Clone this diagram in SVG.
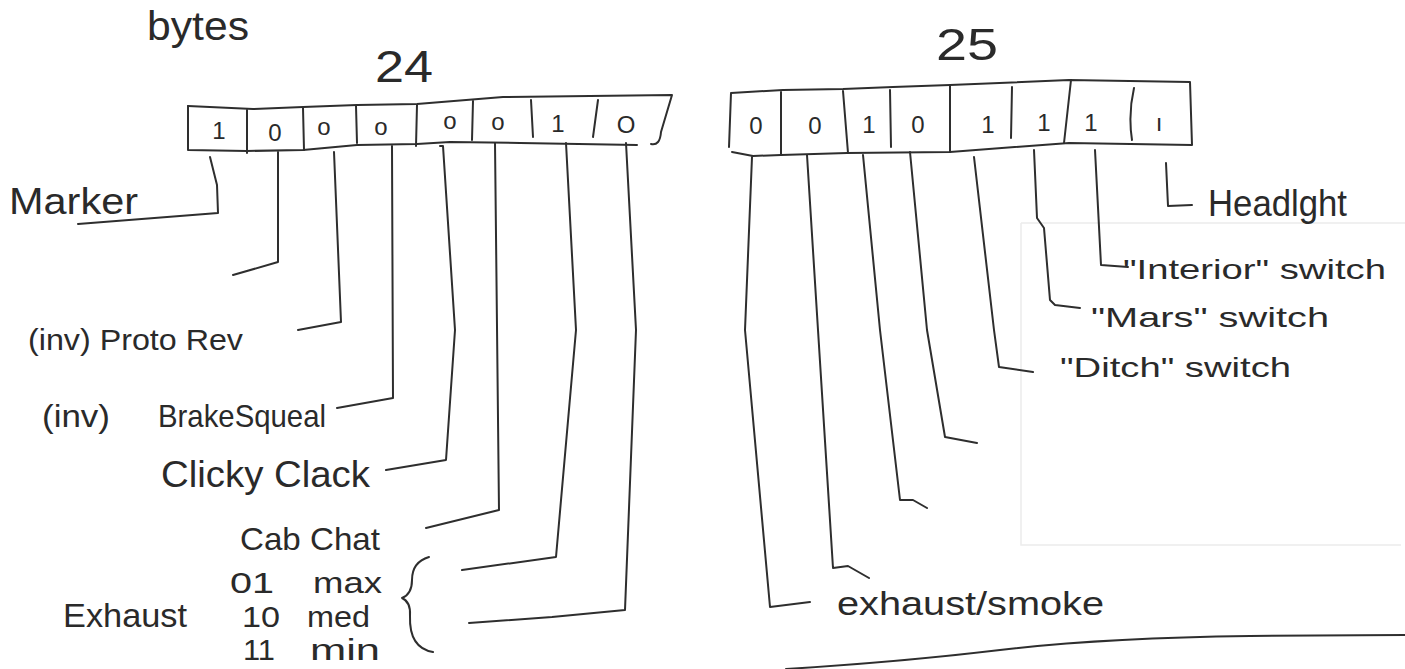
<svg xmlns="http://www.w3.org/2000/svg" width="1405" height="669" viewBox="0 0 1405 669">
<style>
.ln{fill:none;stroke:#2e2e2e;stroke-width:2;stroke-linecap:round;stroke-linejoin:round}
.faint{fill:none;stroke:#ececec;stroke-width:1.5}
.t{font-family:"Liberation Sans","DejaVu Sans",sans-serif;fill:#2a2a2a}
.d{font-family:"Liberation Sans","DejaVu Sans",sans-serif;fill:#2a2a2a;font-size:24px;text-anchor:middle}
</style>
<rect width="1405" height="669" fill="#ffffff"/>
<g id="paper-edge">
<path class="faint" d="M1021,223 L1405,223 M1021,223 L1021,545 L1401,545"/>
</g>
<g id="title-bytes"><text class="t" x="147" y="40" font-size="40" textLength="102" lengthAdjust="spacingAndGlyphs">bytes</text></g>
<g id="label-24"><text class="t" x="375" y="82" font-size="44" textLength="58" lengthAdjust="spacingAndGlyphs">24</text></g>
<g id="label-25"><text class="t" x="936" y="60" font-size="44" textLength="62" lengthAdjust="spacingAndGlyphs">25</text></g>

<g id="byte-24">
<path class="ln" d="M188,106 L253,109 L303,107 L357,105 L417,104 L503,97 L672,95 L661,132 Q660,146 651,144"/>
<path class="ln" d="M637,145 L520,143 L450,142 L417,144 L357,145 L303,150 L247,151 L188,150 L188,106"/>
<path class="ln" d="M247,110 L247,153 M303,108 L304,150 M356,106 L357,143 M417,105 L416,146 M473,101 L472,140 M531,100 L533,137 M598,100 L593,137"/>
<text class="d" x="219" y="139">1</text>
<text class="d" x="275" y="141">0</text>
<text class="d" x="324" y="135">o</text>
<text class="d" x="381" y="135">o</text>
<text class="d" x="450" y="129">o</text>
<text class="d" x="498" y="130">o</text>
<text class="d" x="558" y="132">1</text>
<text class="d" x="626" y="133" font-size="26">O</text>
</g>

<g id="byte-25">
<path class="ln" d="M731,93 L783,90 L843,89 L893,87 L950,85 L1069,80 L1190,82 L1192,145 L1069,143 L950,152 L847,153 L781,155 L753,156 L732,152 M731,93 L729,147"/>
<path class="ln" d="M781,92 L781,155 M843,91 L848,153 M890,90 L891,147 M950,85 L950,152 M1012,87 L1011,138 M1071,80 L1064,143 M1134,88 Q1128,114 1132,140"/>
<text class="d" x="756" y="134">0</text>
<text class="d" x="815" y="134">0</text>
<text class="d" x="869" y="133">1</text>
<text class="d" x="918" y="133">0</text>
<text class="d" x="988" y="133">1</text>
<text class="d" x="1044" y="131">1</text>
<text class="d" x="1091" y="131">1</text>
<text class="d" x="1159" y="131">ı</text>
</g>

<g id="connectors">
<polyline class="ln" points="210,157 217,185 218,213 78,224"/>
<polyline class="ln" points="278,152 278,262 233,275"/>
<polyline class="ln" points="334,152 341,322 298,330"/>
<polyline class="ln" points="392,146 393,398 337,408"/>
<polyline class="ln" points="440,146 443,146 455,330 446,460 386,470"/>
<polyline class="ln" points="495,143 499,510 426,528"/>
<polyline class="ln" points="566,143 576,330 556,557 462,570"/>
<polyline class="ln" points="626,143 636,330 625,610 552,617 469,623"/>
<polyline class="ln" points="752,157 745,330 770,607 810,602"/>
<polyline class="ln" points="807,155 818,330 833,568 848,566 869,578"/>
<polyline class="ln" points="863,155 880,330 900,500 913,500 927,508"/>
<polyline class="ln" points="910,152 927,330 945,437 977,443"/>
<polyline class="ln" points="974,157 994,330 999,367 1033,372"/>
<polyline class="ln" points="1034,150 1037,218 1044,228 1050,300 1055,305 1080,308"/>
<polyline class="ln" points="1095,150 1101,265 1128,267"/>
<polyline class="ln" points="1166,163 1168,206 1192,205"/>
<path class="ln" d="M429,557 Q412,562 412,580 Q412,594 402,598 Q411,602 410,616 Q409,648 433,652"/>
<path class="ln" d="M786,669 Q900,662 1000,650 Q1100,638 1250,636 L1405,635"/>
</g>

<g id="label-marker"><text class="t" x="9" y="214" font-size="36" textLength="129" lengthAdjust="spacingAndGlyphs">Marker</text></g>
<g id="label-protorev"><text class="t" x="28" y="350" font-size="30" textLength="215" lengthAdjust="spacingAndGlyphs">(inv) Proto Rev</text></g>
<g id="label-brakesqueal">
<text class="t" x="42" y="427" font-size="32" textLength="68" lengthAdjust="spacingAndGlyphs">(inv)</text>
<text class="t" x="158" y="427" font-size="32" textLength="168" lengthAdjust="spacingAndGlyphs">BrakeSqueal</text>
</g>
<g id="label-clickyclack"><text class="t" x="161" y="487" font-size="36" textLength="209" lengthAdjust="spacingAndGlyphs">Clicky Clack</text></g>
<g id="label-cabchat"><text class="t" x="240" y="550" font-size="32" textLength="140" lengthAdjust="spacingAndGlyphs">Cab Chat</text></g>
<g id="label-exhaust">
<text class="t" x="63" y="627" font-size="34" textLength="124" lengthAdjust="spacingAndGlyphs">Exhaust</text>
<text class="t" x="230" y="593" font-size="30" textLength="44" lengthAdjust="spacingAndGlyphs">01</text>
<text class="t" x="313" y="593" font-size="30" textLength="69" lengthAdjust="spacingAndGlyphs">max</text>
<text class="t" x="242" y="627" font-size="30" textLength="38" lengthAdjust="spacingAndGlyphs">10</text>
<text class="t" x="307" y="627" font-size="30" textLength="63" lengthAdjust="spacingAndGlyphs">med</text>
<text class="t" x="243" y="660" font-size="30" textLength="32" lengthAdjust="spacingAndGlyphs">11</text>
<text class="t" x="310" y="660" font-size="30" textLength="70" lengthAdjust="spacingAndGlyphs">min</text>
</g>
<g id="label-headlight"><text class="t" x="1208" y="216" font-size="36" textLength="139" lengthAdjust="spacingAndGlyphs">Headlght</text></g>
<g id="label-interior"><text class="t" x="1123" y="279" font-size="28" textLength="263" lengthAdjust="spacingAndGlyphs">"Interior" switch</text></g>
<g id="label-mars"><text class="t" x="1091" y="327" font-size="28" textLength="238" lengthAdjust="spacingAndGlyphs">"Mars" switch</text></g>
<g id="label-ditch"><text class="t" x="1060" y="377" font-size="28" textLength="231" lengthAdjust="spacingAndGlyphs">"Ditch" switch</text></g>
<g id="label-exhaust-smoke"><text class="t" x="837" y="615" font-size="34" textLength="267" lengthAdjust="spacingAndGlyphs">exhaust/smoke</text></g>
</svg>
